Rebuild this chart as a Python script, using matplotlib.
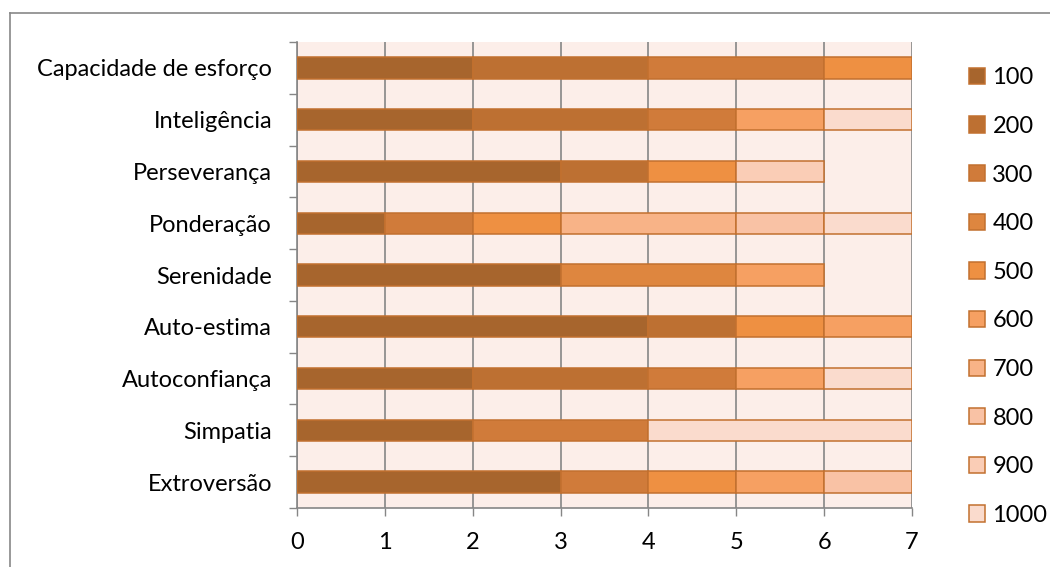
import numpy as np
import matplotlib.pyplot as plt
from matplotlib.patches import Patch
from matplotlib.lines import Line2D

# categories listed bottom -> top
categories = ['Extroversão', 'Simpatia', 'Autoconfiança', 'Auto-estima', 'Serenidade',
              'Ponderação', 'Perseverança', 'Inteligência', 'Capacidade de esforço']
series_names = ['100', '200', '300', '400', '500', '600', '700', '800', '900', '1000']

s100 = [3, 2, 2, 4, 3, 1, 3, 2, 2]
s200 = [0, 0, 2, 1, 0, 0, 1, 2, 2]
s300 = [1, 2, 1, 0, 0, 1, 0, 1, 2]
s400 = [0, 0, 0, 0, 2, 0, 0, 0, 0]
s500 = [1, 0, 0, 1, 0, 1, 1, 0, 1]
s600 = [1, 0, 1, 1, 1, 0, 0, 1, 0]
s700 = [0, 0, 0, 0, 0, 2, 0, 0, 0]
s800 = [1, 0, 0, 0, 0, 1, 0, 0, 0]
s900 = [0, 0, 0, 0, 0, 0, 1, 0, 0]
s1000 = [0, 3, 1, 0, 0, 1, 0, 1, 0]

series_values = [s100, s200, s300, s400, s500, s600, s700, s800, s900, s1000]
colors = ['#A7652D', '#BD7032', '#D07B3A', '#DE863F', '#EE9042',
          '#F6A062', '#F8B387', '#F9C2A5', '#FACDB6', '#FADBCD']
edge = '#C2702F'

plt.rcParams['font.family'] = ['Lato', 'DejaVu Sans']

fig = plt.figure(figsize=(10.5, 5.67), dpi=100)
ax = fig.add_axes([297 / 1050, 1 - 508 / 567, 615 / 1050, 466 / 567])
ax.set_facecolor('#FCEEE9')

y = np.arange(len(categories))
left = np.zeros(len(categories))
for name, vals, col in zip(series_names, series_values, colors):
    vals = np.array(vals, dtype=float)
    m = vals > 0
    ax.barh(y[m], vals[m], left=left[m], height=0.41, color=col,
            edgecolor=edge, linewidth=1.1, zorder=3)
    left += vals

ax.set_xlim(0, 7)
ax.set_ylim(-0.5, len(categories) - 0.5)
ax.set_xticks(range(8))
ax.set_yticks(y)
ax.set_yticklabels(categories)
ax.set_yticks(np.arange(-0.5, len(categories)), minor=True)
ax.tick_params(axis='y', which='major', length=0, pad=18, labelsize=17)
ax.tick_params(axis='y', which='minor', length=6, width=1, color='#868686', direction='out')
ax.tick_params(axis='x', length=6, width=1, color='#868686', direction='out', pad=11, labelsize=17)
ax.grid(axis='x', color='#868686', linewidth=1.2, zorder=0)
ax.set_axisbelow(True)

for s in ['top', 'right']:
    ax.spines[s].set_visible(False)
for s in ['left', 'bottom']:
    ax.spines[s].set_color('#868686')
    ax.spines[s].set_linewidth(1.2)

handles = [Patch(facecolor=c, edgecolor=edge, linewidth=1.1) for c in colors]
fig.legend(handles, series_names, loc='upper left', bbox_to_anchor=(948 / 1050, 1 - 46 / 567),
           frameon=False, fontsize=17, handlelength=0.68, handleheight=0.68,
           handletextpad=0.3, labelspacing=1.17)

# outer chart border
fig.add_artist(Line2D([10 / 1050, 10 / 1050], [0, 1 - 13 / 567], color='#888888', lw=1.2))
fig.add_artist(Line2D([10 / 1050, 1], [1 - 13 / 567, 1 - 13 / 567], color='#888888', lw=1.2))

fig.savefig('out.png', dpi=100, facecolor='white')
